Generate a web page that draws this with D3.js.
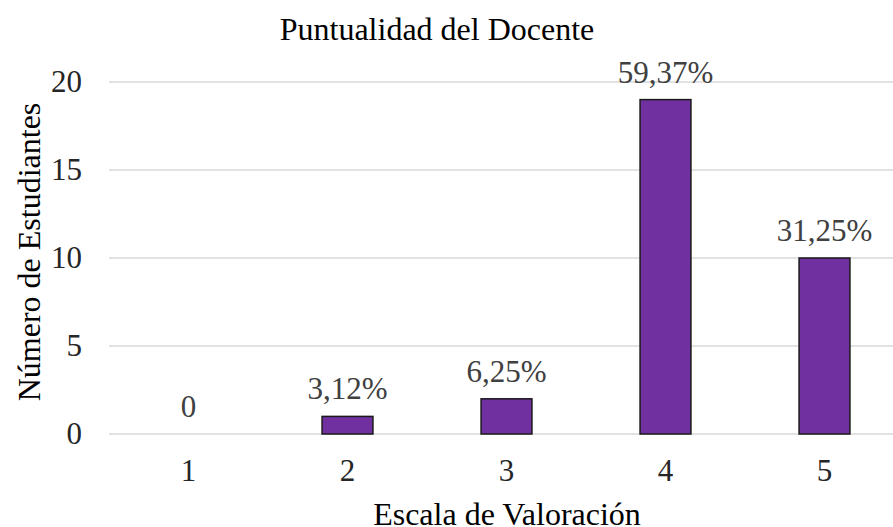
<!DOCTYPE html>
<html>
<head>
<meta charset="utf-8">
<script src="https://cdn.jsdelivr.net/npm/d3@7"></script>
<style>
  body { margin: 0; background: #fff; }
  text { font-family: "Liberation Serif", "Times New Roman", serif; }
</style>
</head>
<body>
<div id="chart"></div>
<script>
// data
var categories = ["1", "2", "3", "4", "5"];
var students = [0, 1, 2, 19, 10];
var barLabels = ["0", "3,12%", "6,25%", "59,37%", "31,25%"];
var yTicks = [0, 5, 10, 15, 20];

var width = 893, height = 527;
var margin = { top: 82, right: -11, bottom: 93, left: 109 };

var svg = d3.select("#chart").append("svg")
    .attr("width", width)
    .attr("height", height);

var x = d3.scaleBand()
    .domain(categories)
    .range([margin.left, width - margin.right])
    .paddingInner(0.68)
    .paddingOuter(0.34);

var y = d3.scaleLinear()
    .domain([0, 20])
    .range([height - margin.bottom, margin.top]);

// gridlines
svg.append("g")
    .selectAll("line")
    .data(yTicks)
    .enter().append("line")
    .attr("x1", margin.left)
    .attr("x2", width)
    .attr("y1", function (d) { return y(d); })
    .attr("y2", function (d) { return y(d); })
    .attr("stroke", "#d9d9d9")
    .attr("stroke-width", 1.5);

// y axis labels
var yAxis = svg.append("g")
    .attr("transform", "translate(" + (margin.left - 27) + ",0)")
    .call(d3.axisLeft(y).tickValues(yTicks).tickSize(0).tickPadding(0));
yAxis.select(".domain").remove();
yAxis.selectAll("text")
    .attr("font-size", 31)
    .attr("fill", "#262626")
    .attr("font-family", "Liberation Serif, serif");

// x axis labels
var xAxis = svg.append("g")
    .attr("transform", "translate(0," + (y(0) + 25) + ")")
    .call(d3.axisBottom(x).tickSize(0).tickPadding(0));
xAxis.select(".domain").remove();
xAxis.selectAll("text")
    .attr("font-size", 31)
    .attr("fill", "#262626")
    .attr("font-family", "Liberation Serif, serif");

// bars
svg.append("g")
    .selectAll("rect")
    .data(students)
    .enter().append("rect")
    .attr("x", function (d, i) { return x(categories[i]); })
    .attr("y", function (d) { return y(d); })
    .attr("width", x.bandwidth())
    .attr("height", function (d) { return y(0) - y(d); })
    .attr("fill", "#7030a0")
    .attr("stroke", "#1a1a1a")
    .attr("stroke-width", 1.5)
    .style("display", function (d) { return d === 0 ? "none" : null; });

// value labels
svg.append("g")
    .selectAll("text")
    .data(students)
    .enter().append("text")
    .attr("x", function (d, i) { return x(categories[i]) + x.bandwidth() / 2; })
    .attr("y", function (d) { return y(d) - 17; })
    .attr("text-anchor", "middle")
    .attr("font-size", 31)
    .attr("fill", "#404040")
    .text(function (d, i) { return barLabels[i]; });

// title
svg.append("text")
    .attr("x", 437)
    .attr("y", 40)
    .attr("text-anchor", "middle")
    .attr("font-size", 32)
    .attr("fill", "#000")
    .text("Puntualidad del Docente");

// axis titles
svg.append("text")
    .attr("x", 507)
    .attr("y", 525)
    .attr("text-anchor", "middle")
    .attr("font-size", 32)
    .attr("fill", "#000")
    .text("Escala de Valoración");

svg.append("text")
    .attr("transform", "translate(40,252) rotate(-90)")
    .attr("text-anchor", "middle")
    .attr("font-size", 32)
    .attr("fill", "#000")
    .text("Número de Estudiantes");
</script>
</body>
</html>
